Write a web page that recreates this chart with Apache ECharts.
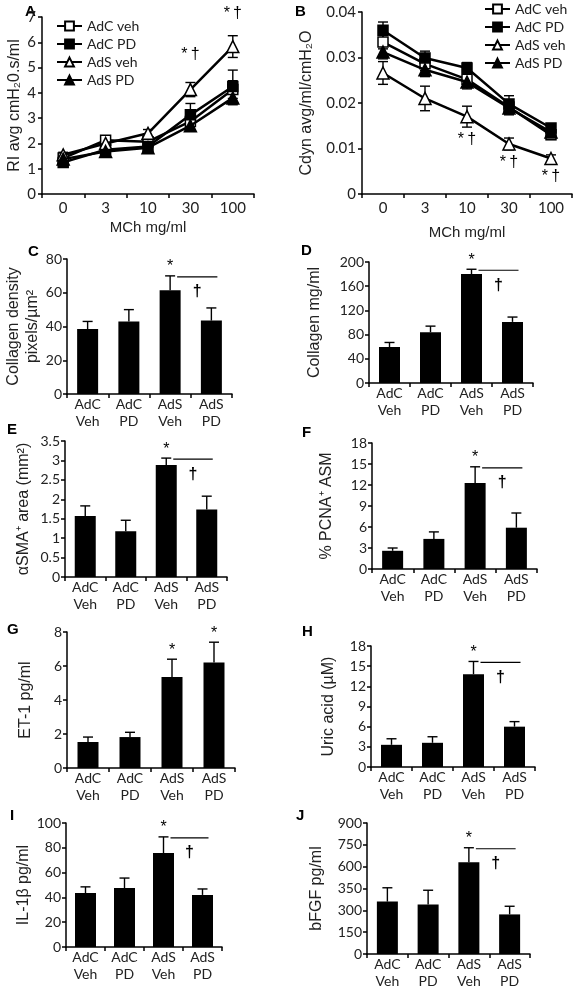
<!DOCTYPE html>
<html><head><meta charset="utf-8">
<script src="https://cdn.jsdelivr.net/npm/echarts@6/dist/echarts.min.js"></script>
<style>html,body{margin:0;padding:0;background:#fff}#c{width:574px;height:993px}</style>
</head><body><div id="c"></div>
<script>
// ---------- DATA ----------
const doses = ['0', '3', '10', '30', '100'];
const groups = ['AdC\nVeh', 'AdC\nPD', 'AdS\nVeh', 'AdS\nPD'];
const lineNames = ['AdC veh', 'AdC PD', 'AdS veh', 'AdS PD'];

// Panel A: RI
const riAdCveh = [1.42, 2.13, 2.07, 2.87, 4.13];
const riAdCPD = [1.25, 1.75, 1.88, 3.13, 4.25];
const riAdSveh = [1.55, 2.0, 2.4, 4.13, 5.83];
const riAdSPD = [1.38, 1.68, 1.83, 2.7, 3.8];
const riErrAdCveh = [0.1, 0.12, 0.1, 0.15, 0.35];
const riErrAdCPD = [0.1, 0.1, 0.1, 0.45, 0.65];
const riErrAdSveh = [0.1, 0.12, 0.15, 0.28, 0.43];
const riErrAdSPD = [0.08, 0.1, 0.1, 0.15, 0.27];

// Panel B: Cdyn
const cdAdCveh = [0.0334, 0.0286, 0.0252, 0.0191, 0.013];
const cdAdCPD = [0.036, 0.0299, 0.0277, 0.0198, 0.0145];
const cdAdSveh = [0.0266, 0.021, 0.017, 0.011, 0.0078];
const cdAdSPD = [0.0312, 0.0273, 0.0246, 0.0189, 0.0136];
const cdErrAdCveh = [0.0015, 0.0015, 0.0015, 0.0015, 0.001];
const cdErrAdCPD = [0.0018, 0.0015, 0.0012, 0.0018, 0.0008];
const cdErrAdSveh = [0.0025, 0.0027, 0.0023, 0.0013, 0.0008];
const cdErrAdSPD = [0.0015, 0.0015, 0.0015, 0.0015, 0.001];

// Bar panels
const collagenDensity = [38.5, 43, 61.5, 43.5];
const collagenDensityErr = [4.5, 7, 8.5, 7.5];
const collagen = [59.5, 84, 180, 101];
const collagenErr = [7.5, 10, 8, 8];
const smaArea = [1.57, 1.18, 2.88, 1.74];
const smaAreaErr = [0.26, 0.28, 0.18, 0.34];
const pcna = [2.6, 4.3, 12.3, 5.9];
const pcnaErr = [0.4, 1.0, 2.3, 2.1];
const et1 = [1.53, 1.82, 5.35, 6.2];
const et1Err = [0.29, 0.28, 1.05, 1.2];
const uricAcid = [3.3, 3.6, 13.8, 6.0];
const uricAcidErr = [0.9, 0.9, 1.9, 0.75];
const il1b = [43.5, 47.6, 75.8, 42];
const il1bErr = [5, 8, 13, 4.8];
const bfgf = [360, 340, 630, 272];
const bfgfErr = [95, 98, 100, 56];
const bfgfTicks = ['0', '150', '300', '350', '600', '750', '900'];

// ---------- LAYOUT / STYLE ----------
const TICKFONT = 'Lato, "Open Sans", sans-serif';
const TITLEFONT = '"Liberation Sans", Arial, sans-serif';
const ANNFONT = '16px "Liberation Sans", Arial, sans-serif';

const grids = [
  {left: 42, top: 17, width: 212, height: 177},   // A
  {left: 362, top: 12, width: 210, height: 182},  // B
  {left: 67, top: 259, width: 165, height: 135},  // C
  {left: 369, top: 262, width: 164, height: 121}, // D
  {left: 65, top: 441, width: 162, height: 136},  // E
  {left: 372, top: 443, width: 165, height: 126}, // F
  {left: 67, top: 632, width: 168, height: 136},  // G
  {left: 371, top: 646, width: 164, height: 121}, // H
  {left: 66, top: 823, width: 156, height: 124},  // I
  {left: 367, top: 823, width: 163, height: 131}  // J
];

const axisLine = {show: true, lineStyle: {color: '#000', width: 1.5}};
const axisTick = {show: true, length: 4, lineStyle: {color: '#000', width: 1.5}};

const xAxes = [], yAxes = [], series = [], graphics = [];

function errRender(both) {
  return function (params, api) {
    const x = api.value(0), v = api.value(1), e = api.value(2);
    const p0 = api.coord([x, both ? v - e : v]);
    const p1 = api.coord([x, v + e]);
    const hw = 5;
    const st = {stroke: '#000', lineWidth: 1.4};
    const ch = [
      {type: 'line', shape: {x1: p0[0], y1: p0[1], x2: p1[0], y2: p1[1]}, style: st},
      {type: 'line', shape: {x1: p1[0] - hw, y1: p1[1], x2: p1[0] + hw, y2: p1[1]}, style: st}
    ];
    if (both) ch.push({type: 'line', shape: {x1: p0[0] - hw, y1: p0[1], x2: p0[0] + hw, y2: p0[1]}, style: st});
    return {type: 'group', children: ch};
  };
}

// ---------- LINE PANELS ----------
const lineStyles = [
  {symbol: 'rect', fill: '#fff', size: 10},
  {symbol: 'rect', fill: '#000', size: 10},
  {symbol: 'triangle', fill: '#fff', size: 12},
  {symbol: 'triangle', fill: '#000', size: 12}
];
const linePanels = [
  {g: 0, vals: [riAdCveh, riAdCPD, riAdSveh, riAdSPD], errs: [riErrAdCveh, riErrAdCPD, riErrAdSveh, riErrAdSPD],
   max: 7, interval: 1, name: 'RI avg cmH\u20820.s/ml', nameGap: 19, xNameGap: 26,
   ann: [{i: 3, above: true, dy: -28}, {i: 4, above: true, dy: -22}]},
  {g: 1, vals: [cdAdCveh, cdAdCPD, cdAdSveh, cdAdSPD], errs: [cdErrAdCveh, cdErrAdCPD, cdErrAdSveh, cdErrAdSPD],
   max: 0.04, interval: 0.01, name: 'Cdyn avg/ml/cmH\u2082O', nameGap: 47, xNameGap: 31,
   ann: [{i: 2, above: false, dy: 12}, {i: 3, above: false, dy: 13}, {i: 4, above: false, dy: 14}]}
];
linePanels.forEach(p => {
  xAxes.push({type: 'category', gridIndex: p.g, data: doses, boundaryGap: true,
    axisLine, axisTick, axisLabel: {color: '#222', fontFamily: TICKFONT, fontSize: 15, margin: 7},
    name: 'MCh mg/ml', nameLocation: 'middle', nameGap: p.xNameGap,
    nameTextStyle: {color: '#222', fontFamily: TITLEFONT, fontSize: 15}});
  yAxes.push({type: 'value', gridIndex: p.g, min: 0, max: p.max, interval: p.interval,
    axisLine, axisTick, splitLine: {show: false},
    axisLabel: {color: '#222', fontFamily: TICKFONT, fontSize: 15, margin: 6},
    name: p.name, nameLocation: 'middle', nameRotate: 90, nameGap: p.nameGap,
    nameTextStyle: {color: '#222', fontFamily: TITLEFONT, fontSize: 16}});
  p.vals.forEach((v, k) => {
    series.push({type: 'custom', name: lineNames[k] + ' err', xAxisIndex: p.g, yAxisIndex: p.g, z: 1,
      renderItem: errRender(true), silent: true,
      data: v.map((y, i) => [i, y, p.errs[k][i]])});
  });
  p.vals.forEach((v, k) => {
    const s = lineStyles[k];
    series.push({type: 'line', name: lineNames[k], xAxisIndex: p.g, yAxisIndex: p.g, z: 3 + k,
      data: v, symbol: s.symbol, symbolSize: s.size, showAllSymbol: true,
      lineStyle: {color: '#000', width: 2.5},
      itemStyle: {color: s.fill, borderColor: '#000', borderWidth: 1.5}});
  });
  const sv = p.vals[2], se = p.errs[2];
  series.push({type: 'custom', xAxisIndex: p.g, yAxisIndex: p.g, z: 10, silent: true, data: [[0, 0]],
    renderItem: function (params, api) {
      return {type: 'group', children: p.ann.map(a => {
        const y = a.above ? sv[a.i] + se[a.i] : sv[a.i] - se[a.i];
        const pt = api.coord([a.i, y]);
        return {type: 'text', style: {text: '*\u2009\u2020', x: pt[0], y: pt[1] + a.dy, align: 'center',
          verticalAlign: 'middle', font: ANNFONT, fill: '#000'}};
      })};
    }});
});

// ---------- BAR PANELS ----------
const barPanels = [
  {g: 2, v: collagenDensity, e: collagenDensityErr, max: 80, interval: 20, name: 'Collagen density\npixels/\u00b5m\u00b2', nameGap: 23, stars: [2], bracket: [2, 3]},
  {g: 3, v: collagen, e: collagenErr, max: 200, interval: 40, name: 'Collagen mg/ml', nameGap: 45, stars: [2], bracket: [2, 3]},
  {g: 4, v: smaArea, e: smaAreaErr, max: 3.5, interval: 0.5, name: '\u03b1SMA\u207a area (mm\u00b2)', nameGap: 32, stars: [2], bracket: [2, 3]},
  {g: 5, v: pcna, e: pcnaErr, max: 18, interval: 3, name: '% PCNA\u207a ASM', nameGap: 36, stars: [2], bracket: [2, 3]},
  {g: 6, v: et1, e: et1Err, max: 8, interval: 2, name: 'ET-1 pg/ml', nameGap: 32, stars: [2, 3], bracket: null},
  {g: 7, v: uricAcid, e: uricAcidErr, max: 18, interval: 3, name: 'Uric acid (\u00b5M)', nameGap: 33, stars: [2], bracket: [2, 3]},
  {g: 8, v: il1b, e: il1bErr, max: 100, interval: 20, name: 'IL-1\u03b2 pg/ml', nameGap: 33, stars: [2], bracket: [2, 3]},
  {g: 9, v: bfgf, e: bfgfErr, max: 900, interval: 150, name: 'bFGF pg/ml', nameGap: 41, stars: [2], bracket: [2, 3], ticks: bfgfTicks}
];
barPanels.forEach(p => {
  xAxes.push({type: 'category', gridIndex: p.g, data: groups, boundaryGap: true,
    axisLine, axisTick,
    axisLabel: {color: '#222', fontFamily: TICKFONT, fontSize: 14, lineHeight: 17, margin: 2, interval: 0}});
  const yl = {color: '#222', fontFamily: TICKFONT, fontSize: 14, margin: 5};
  if (p.ticks) yl.formatter = val => p.ticks[Math.round(val / p.interval)];
  yAxes.push({type: 'value', gridIndex: p.g, min: 0, max: p.max, interval: p.interval,
    axisLine, axisTick, splitLine: {show: false}, axisLabel: yl,
    name: p.name, nameLocation: 'middle', nameRotate: 90, nameGap: p.nameGap,
    nameTextStyle: {color: '#222', fontFamily: TITLEFONT, fontSize: 16, lineHeight: 19}});
  series.push({type: 'bar', xAxisIndex: p.g, yAxisIndex: p.g, data: p.v, barWidth: 21,
    itemStyle: {color: '#000'}, z: 2});
  series.push({type: 'custom', xAxisIndex: p.g, yAxisIndex: p.g, z: 3, silent: true,
    renderItem: errRender(false), data: p.v.map((y, i) => [i, y, p.e[i]])});
  series.push({type: 'custom', xAxisIndex: p.g, yAxisIndex: p.g, z: 4, silent: true, data: [[0, 0]],
    renderItem: function (params, api) {
      const ch = [];
      p.stars.forEach(i => {
        const pt = api.coord([i, p.v[i] + p.e[i]]);
        ch.push({type: 'text', style: {text: '*', x: pt[0], y: pt[1] - 9, align: 'center',
          verticalAlign: 'middle', font: ANNFONT, fill: '#000'}});
      });
      if (p.bracket) {
        const a = p.bracket[0], b = p.bracket[1];
        const pa = api.coord([a, p.v[a] + p.e[a]]);
        const pb = api.coord([b, 0]);
        const y = pa[1] + 1, x1 = pa[0] + 7, x2 = pb[0] + 6;
        ch.push({type: 'line', shape: {x1: x1, y1: y, x2: x2, y2: y}, style: {stroke: '#000', lineWidth: 1.2}});
        ch.push({type: 'text', style: {text: '\u2020', x: (x1 + x2) / 2, y: y + 15, align: 'center',
          verticalAlign: 'middle', font: 'bold ' + ANNFONT, fill: '#000'}});
      }
      return {type: 'group', children: ch};
    }});
});

// Panel letters
const letters = [['A', 30, 12], ['B', 300, 12], ['C', 33, 252], ['D', 306, 251], ['E', 12, 430],
  ['F', 307, 433], ['G', 12, 630], ['H', 307, 632], ['I', 15, 816], ['J', 301, 816]];
letters.forEach(l => graphics.push({type: 'text', left: l[1] - 5, top: l[2] - 8,
  style: {text: l[0], font: 'bold 15px "Liberation Sans", Arial, sans-serif', fill: '#000'}}));

const legendCommon = {orient: 'vertical', data: lineNames, itemWidth: 25, itemHeight: 11, itemGap: 4,
  textStyle: {color: '#222', fontFamily: TICKFONT, fontSize: 14}, selectedMode: false};

const chart = echarts.init(document.getElementById('c'), null, {renderer: 'canvas'});
chart.setOption({
  animation: false,
  backgroundColor: '#fff',
  grid: grids,
  xAxis: xAxes,
  yAxis: yAxes,
  legend: [
    Object.assign({left: 56, top: 19, padding: 0}, legendCommon),
    Object.assign({left: 484, top: 2, padding: 0}, legendCommon)
  ],
  series: series,
  graphic: graphics
});
</script></body></html>
